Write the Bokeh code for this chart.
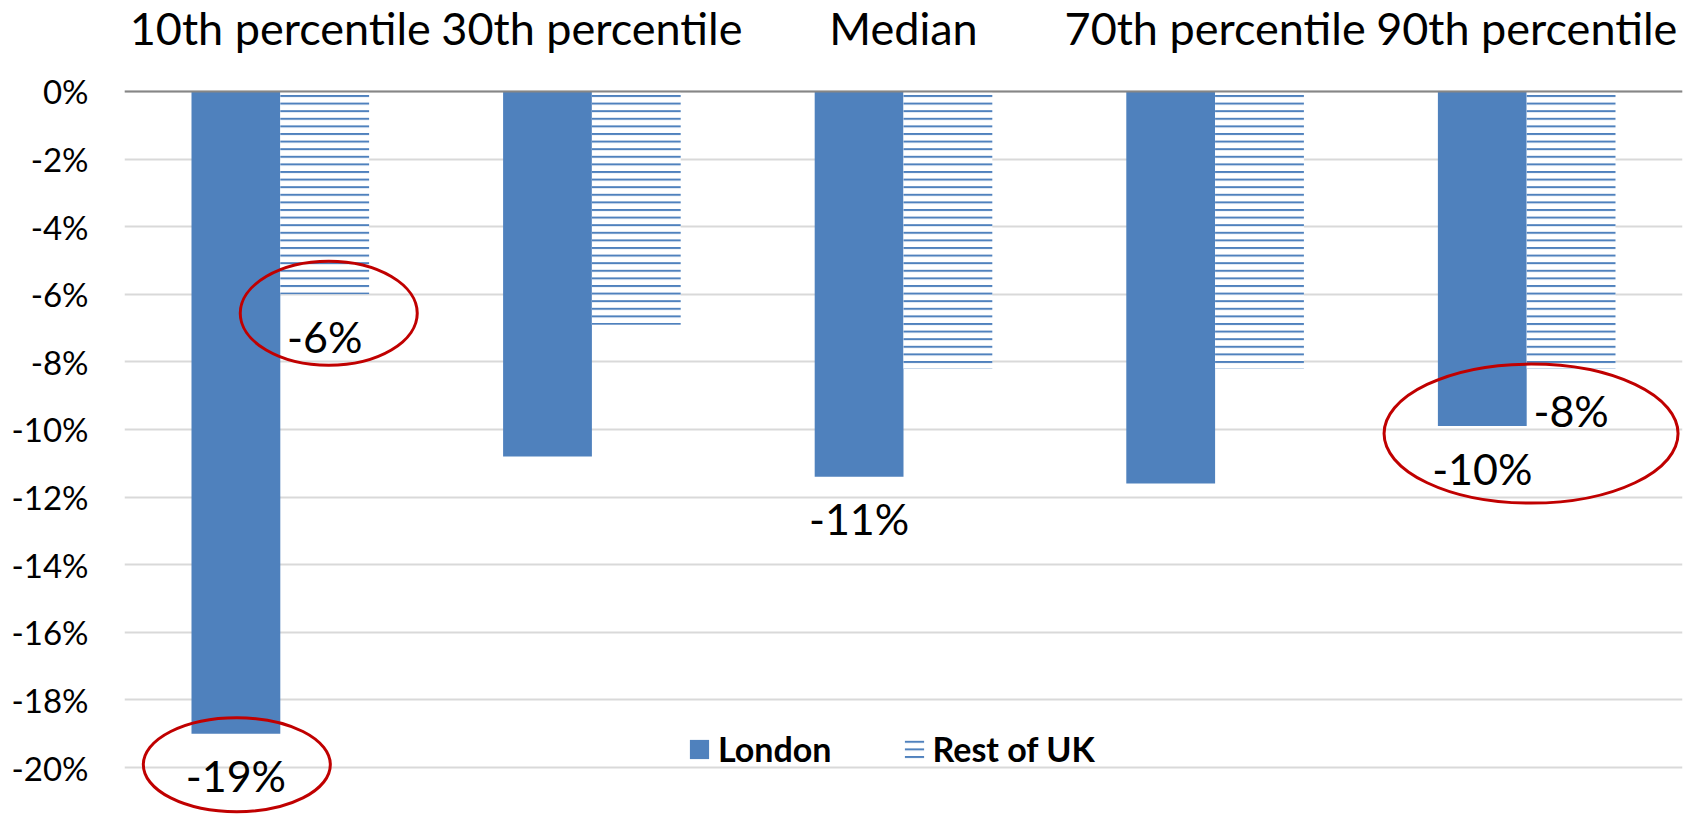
from bokeh.plotting import figure
from bokeh.models import (ColumnDataSource, FactorRange, Range1d, FixedTicker,
                          PrintfTickFormatter, Span, Legend, LegendItem)
from bokeh.transform import dodge
from bokeh.core.properties import value
from bokeh.embed import file_html
from bokeh.resources import INLINE

# ---- data -------------------------------------------------------------
categories = ["10th percentile", "30th percentile", "Median",
              "70th percentile", "90th percentile"]
london = [-19.0, -10.8, -11.4, -11.6, -9.9]
rest_of_uk = [-6.0, -6.9, -8.2, -8.2, -8.2]
y_ticks = [0, -2, -4, -6, -8, -10, -12, -14, -16, -18, -20]

# bars that carry a value label
london_labelled = ["10th percentile", "Median", "90th percentile"]
rest_labelled = ["10th percentile", "90th percentile"]

# ---- styling ----------------------------------------------------------
FONT = "Lato"
BLUE = "#4F81BD"
RED = "#C00000"
W, H = 1686, 814
LEFT, RIGHT = 124, 4
# the frame spans the full height; headroom above 0% holds the category names
Y_START, Y_END = -21.39, 2.69
PX_PER_PCT = H / (Y_END - Y_START)
BAR_W = 0.285

p = figure(width=W, height=H,
           x_range=FactorRange(*categories, range_padding=0),
           y_range=Range1d(Y_START, Y_END),
           x_axis_location=None,
           toolbar_location=None, output_backend="svg",
           min_border_left=LEFT, min_border_right=RIGHT,
           min_border_top=0, min_border_bottom=0)
p.outline_line_color = None
p.background_fill_color = "white"

# percentage axis
ya = p.yaxis[0]
ya.ticker = FixedTicker(ticks=y_ticks)
ya.formatter = PrintfTickFormatter(format="%d%%")
ya.axis_line_color = None
ya.major_tick_line_color = None
ya.minor_tick_line_color = None
ya.major_tick_out = 0
ya.major_tick_in = 0
ya.major_label_text_font = FONT
ya.major_label_text_font_size = "33px"
ya.major_label_text_color = "black"
ya.major_label_standoff = 36

p.xgrid.visible = False
p.ygrid.ticker = FixedTicker(ticks=y_ticks)
p.ygrid.grid_line_color = "#d9d9d9"
p.ygrid.grid_line_width = 2

src = ColumnDataSource(dict(category=categories, london=london, rest=rest_of_uk,
                            zero=[0] * len(categories)))

# category names above the zero line
p.text(x="category", y="zero", text="category", source=src, y_offset=-63,
       text_align="center", text_baseline="alphabetic",
       text_font=value(FONT), text_font_size="45px", text_color="black")

r_london = p.vbar(x=dodge("category", -BAR_W / 2, range=p.x_range),
                  top="london", bottom=0, width=BAR_W, source=src,
                  fill_color=BLUE, line_color=None)
r_rest = p.vbar(x=dodge("category", BAR_W / 2, range=p.x_range),
                top="rest", bottom=0, width=BAR_W, source=src,
                fill_color="white", line_color=None,
                hatch_pattern="horizontal_line", hatch_color=BLUE,
                hatch_scale=7.6, hatch_weight=2)

# zero line
p.add_layout(Span(location=0, dimension="width", line_color="#868686", line_width=2))

# value labels under selected bars
def label_source(series, cats):
    vals = [series[categories.index(c)] for c in cats]
    return ColumnDataSource(dict(category=cats, y=vals,
                                 text=[f"{round(v):d}%" for v in vals]))

for series, cats, shift in ((london, london_labelled, -BAR_W / 2),
                            (rest_of_uk, rest_labelled, BAR_W / 2)):
    p.text(x=dodge("category", shift, range=p.x_range), y="y", text="text",
           source=label_source(series, cats), y_offset=42,
           text_align="center", text_baseline="alphabetic",
           text_font=value(FONT), text_font_size="43px", text_color="black")

# red highlight rings: anchored to a bar end, offsets in pixels
rings = [
    # (category, series values, x shift in category units, dy px, w px, h px)
    ("10th percentile", rest_of_uk, BAR_W / 2 + 0.013, 19, 177, 104),
    ("10th percentile", london, -BAR_W / 2 + 0.003, 31, 187, 94),
    ("90th percentile", london, 0.014, 7.5, 294, 139),
]
ring_x, ring_y, ring_w, ring_h = [], [], [], []
for cat, series, shift, dy, w, h in rings:
    i = categories.index(cat)
    ring_x.append(i + 0.5 + shift)
    ring_y.append(series[i] - dy / PX_PER_PCT)
    ring_w.append(w)
    ring_h.append(h)
p.ellipse(x=ring_x, y=ring_y, width=ring_w, height=ring_h,
          width_units="screen", height_units="screen",
          fill_color=None, line_color=RED, line_width=3)

legend = Legend(items=[LegendItem(label="London", renderers=[r_london]),
                       LegendItem(label="Rest of UK", renderers=[r_rest])],
                orientation="horizontal", location=(563, 45),
                label_text_font=FONT, label_text_font_style="bold",
                label_text_font_size="34px", label_text_color="black",
                glyph_width=24, glyph_height=24, label_standoff=7,
                spacing=70, padding=0, margin=0,
                border_line_color=None, background_fill_alpha=0)
p.add_layout(legend)

open("out.html", "w").write(file_html(p, INLINE))
